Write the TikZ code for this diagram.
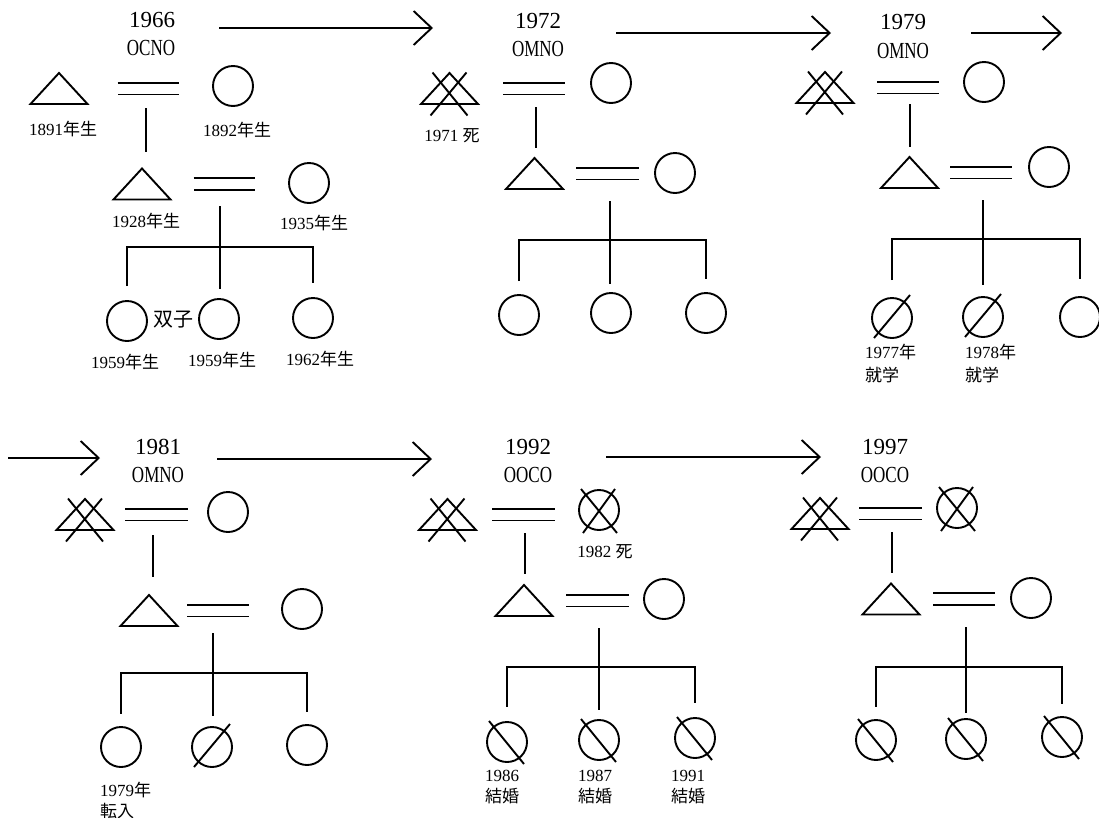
\documentclass[tikz,border=0pt]{standalone}
\usepackage{fontspec}
\setmainfont{Liberation Serif}
\newfontfamily\cjk{Noto Sans CJK JP}
\usetikzlibrary{arrows.meta}
\tikzset{
 sym/.style={line width=1.9pt},
 ln/.style={line width=1.9pt},
 tribox/.style={rectangle, minimum width=57pt, minimum height=31pt, inner sep=0pt, outer sep=0pt},
 pc/.style={circle, draw, line width=1.9pt, minimum size=40pt, inner sep=0pt, outer sep=0pt},
 dbl/.style={double, double distance=10pt, line width=1.9pt},
 yr/.style={font=\fontsize{23}{25}\selectfont, inner sep=0pt},
 code/.style={font=\fontsize{23}{25}\selectfont, inner sep=0pt},
 lab/.style={font=\fontsize{17}{21}\selectfont, inner sep=0pt, align=left},
 arr/.style={line width=1.9pt, -{Straight Barb[length=18pt, width=34pt, line width=1.9pt]}},
}
\newcommand\mtri[3]{\node[tribox] (#1) at (#2,-#3) {};
 \draw[sym, line join=miter] (#1.north) -- (#1.south east) -- (#1.south west) -- cycle;}
\newcommand\dtri[3]{\mtri{#1}{#2}{#3}
 \draw[sym] ([shift={(-17,16)}]#1.center) -- ([shift={(18,-27)}]#1.center)
            ([shift={(17,16)}]#1.center) -- ([shift={(-19,-27)}]#1.center);}
\newcommand\fcir[3]{\node[pc] (#1) at (#2,-#3) {};}
\newcommand\scir[3]{\fcir{#1}{#2}{#3}
 \draw[sym] ([shift={(-18,-20)}]#1.center) -- ([shift={(18,23)}]#1.center);}
\newcommand\bcir[3]{\fcir{#1}{#2}{#3}
 \draw[sym] ([shift={(-18,21)}]#1.center) -- ([shift={(17,-22)}]#1.center);}
\newcommand\xcir[3]{\fcir{#1}{#2}{#3}
 \draw[sym] ([shift={(-18,21)}]#1.center) -- ([shift={(18,-23)}]#1.center)
            ([shift={(16,21)}]#1.center) -- ([shift={(-16,-23)}]#1.center);}
\newcommand\marr[4]{\draw[dbl, shorten <=#3pt, shorten >=#4pt] (#1.east) -- (#1.east -| #2.west);}
\newcommand\sibs[6]{%
 \coordinate (#1f) at (#2,-#3);
 \coordinate (#1bar) at (#2,-#4);
 \draw[ln, shorten >=#6pt] (#1f) -- (#1f |- #1k2.north);
 \draw[ln] ([yshift=#5pt]#1k1.north) -- (#1k1.north |- #1bar) -- (#1k3.north |- #1bar) -- ([yshift=#5pt]#1k3.north);}
\begin{document}
\begin{tikzpicture}[x=1pt,y=1pt]
\useasboundingbox (0,0) rectangle (1099,-817);
\fill[white] (0,0) rectangle (1099,-817);
\clip (0,0) rectangle (1099,-817);

% ---------- arrows ----------
\coordinate (a1s) at (219,-28);  \coordinate (a1e) at (433,-28);
\coordinate (a2s) at (616,-33);  \coordinate (a2e) at (831,-33);
\coordinate (a3s) at (971,-33);  \coordinate (a3e) at (1062,-33);
\coordinate (a4s) at (8,-458);   \coordinate (a4e) at (100,-458);
\coordinate (a5s) at (217,-459); \coordinate (a5e) at (432,-459);
\coordinate (a6s) at (606,-457); \coordinate (a6e) at (821,-457);
\draw[arr] (a1s) -- (a1e);
\draw[arr] (a2s) -- (a2e);
\draw[arr] (a3s) -- (a3e);
\draw[arr] (a4s) -- (a4e);
\draw[arr] (a5s) -- (a5e);
\draw[arr] (a6s) -- (a6e);

% ---------- headers ----------
\node[yr] (y1) at (152,-20) {1966};  \node[code] (c1) at (151,-48) {\scalebox{0.74}[1]{OCNO}};
\node[yr] (y2) at (538,-21) {1972};  \node[code] (c2) at (538,-49) {\scalebox{0.74}[1]{OMNO}};
\node[yr] (y3) at (903,-22) {1979};  \node[code] (c3) at (903,-51) {\scalebox{0.74}[1]{OMNO}};
\node[yr] (y4) at (158,-447) {1981}; \node[code] (c4) at (158,-475) {\scalebox{0.74}[1]{OMNO}};
\node[yr] (y5) at (528,-447) {1992}; \node[code] (c5) at (528,-475) {\scalebox{0.74}[1]{OOCO}};
\node[yr] (y6) at (885,-447) {1997}; \node[code] (c6) at (885,-475) {\scalebox{0.74}[1]{OOCO}};

% ---------- panel 1 (1966) ----------
\mtri{p1a}{59}{88.5}
\fcir{p1b}{233}{86}
\marr{p1a}{p1b}{30}{34}
\coordinate (p1v) at (146,-108);
\mtri{p1c}{142}{184}
\draw[ln, shorten >=17pt] (p1v) -- (p1v |- p1c.north);
\fcir{p1d}{309}{183}
\marr{p1c}{p1d}{23}{34}
\fcir{p1k1}{127}{321}
\fcir{p1k2}{219}{319}
\fcir{p1k3}{313}{318}
\sibs{p1}{220}{206}{247}{15}{10}
\node[lab] (l11) at (63,-129) {1891{\cjk 年生}};
\node[lab] (l12) at (237,-130) {1892{\cjk 年生}};
\node[lab] (l13) at (146,-221) {1928{\cjk 年生}};
\node[lab] (l14) at (314,-223) {1935{\cjk 年生}};
\node[font=\fontsize{20}{22}\selectfont\cjk, inner sep=0pt] (tw) at (173,-320) {双子};
\node[lab] (l15) at (125,-362) {1959{\cjk 年生}};
\node[lab] (l16) at (222,-360) {1959{\cjk 年生}};
\node[lab] (l17) at (320,-359) {1962{\cjk 年生}};

% ---------- panel 2 (1972) ----------
\dtri{p2a}{449.5}{88.5}
\fcir{p2b}{611}{83}
\marr{p2a}{p2b}{25}{26}
\coordinate (p2v) at (536,-107);
\mtri{p2c}{534.5}{173.5}
\draw[ln, shorten >=10pt] (p2v) -- (p2v |- p2c.north);
\fcir{p2d}{675}{173}
\marr{p2c}{p2d}{13}{16}
\fcir{p2k1}{519}{315}
\fcir{p2k2}{611}{313}
\fcir{p2k3}{706}{313}
\sibs{p2}{610}{201}{240}{14}{9.5}
\node[lab] (l21) at (452,-136) {1971 {\cjk 死}};

% ---------- panel 3 (1979) ----------
\dtri{p3a}{825}{87.5}
\fcir{p3b}{984}{82}
\marr{p3a}{p3b}{23.5}{25.5}
\coordinate (p3v) at (910,-104);
\mtri{p3c}{909.5}{172.5}
\draw[ln, shorten >=10pt] (p3v) -- (p3v |- p3c.north);
\fcir{p3d}{1049}{167}
\marr{p3c}{p3d}{12}{17.5}
\scir{p3k1}{892}{318}
\scir{p3k2}{983}{317}
\fcir{p3k3}{1080}{317}
\sibs{p3}{983}{200}{239}{18}{12}
\node[lab, anchor=west, font=\fontsize{17}{23}\selectfont] (l31) at (865,-363.5) {1977{\cjk 年}\\{\cjk 就学}};
\node[lab, anchor=west, font=\fontsize{17}{23}\selectfont] (l32) at (965,-363.5) {1978{\cjk 年}\\{\cjk 就学}};

% ---------- panel 4 (1981) ----------
\dtri{p4a}{85}{514.5}
\fcir{p4b}{228}{512}
\marr{p4a}{p4b}{11.5}{20.5}
\coordinate (p4v) at (153,-535);
\mtri{p4c}{149}{610.5}
\draw[ln, shorten >=18pt] (p4v) -- (p4v |- p4c.north);
\fcir{p4d}{302}{609}
\marr{p4c}{p4d}{9.5}{33.5}
\fcir{p4k1}{121}{747}
\scir{p4k2}{212}{747}
\fcir{p4k3}{307}{745}
\sibs{p4}{213}{633}{673}{13.5}{11.5}
\node[lab, anchor=west] (l41) at (100,-800) {1979{\cjk 年}\\{\cjk 転入}};

% ---------- panel 5 (1992) ----------
\dtri{p5a}{447.5}{514.5}
\xcir{p5b}{599}{510}
\marr{p5a}{p5b}{16}{24.5}
\node[lab] (l51) at (605,-552) {1982 {\cjk 死}};
\coordinate (p5v) at (525,-533);
\mtri{p5c}{524}{600.5}
\draw[ln, shorten >=11pt] (p5v) -- (p5v |- p5c.north);
\fcir{p5d}{664}{599}
\marr{p5c}{p5d}{13.5}{15.5}
\bcir{p5k1}{507}{742}
\bcir{p5k2}{599}{740}
\bcir{p5k3}{695}{738}
\sibs{p5}{599}{628}{667}{15.5}{10.5}
\node[lab, anchor=west] (l52) at (485,-787) {1986\\{\cjk 結婚}};
\node[lab, anchor=west] (l53) at (578,-787) {1987\\{\cjk 結婚}};
\node[lab, anchor=west] (l54) at (671,-787) {1991\\{\cjk 結婚}};

% ---------- panel 6 (1997) ----------
\dtri{p6a}{820}{513.5}
\xcir{p6b}{957}{508}
\marr{p6a}{p6b}{10.5}{15.5}
\coordinate (p6v) at (892,-532);
\mtri{p6c}{891}{599}
\draw[ln, shorten >=10.5pt] (p6v) -- (p6v |- p6c.north);
\fcir{p6d}{1031}{598}
\marr{p6c}{p6d}{13.5}{16.5}
\bcir{p6k1}{876}{740}
\bcir{p6k2}{966}{739}
\bcir{p6k3}{1062}{737}
\sibs{p6}{966}{627}{667}{13.5}{6.5}
\end{tikzpicture}
\end{document}
